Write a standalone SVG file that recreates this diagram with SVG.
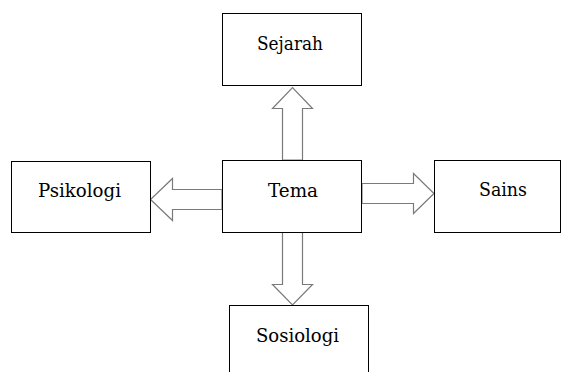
<svg xmlns="http://www.w3.org/2000/svg" width="564" height="372" viewBox="0 0 564 372">
<style>
.box{fill:#fff;stroke:#000;stroke-width:1}
.lbl{font-family:'DejaVu Serif',serif;font-size:18px;fill:#000;text-anchor:middle}
.arr{fill:#fff;stroke:#7a7a7a;stroke-width:1.2;stroke-linejoin:miter}
</style>
<rect width="564" height="372" fill="#fff"/>
<g id="connectors">
<polygon class="arr" points="282.5,160 282.5,108.5 272.5,108.5 292.5,87.5 312.5,108.5 302.5,108.5 302.5,160"/>
<polygon class="arr" points="282.5,232 282.5,284.5 272.5,284.5 292.5,305 312.5,284.5 302.5,284.5 302.5,232"/>
<polygon class="arr" points="222,189.5 172.5,189.5 172.5,178.5 150.5,199.5 172.5,220.5 172.5,209.5 222,209.5"/>
<polygon class="arr" points="362,183.5 413.5,183.5 413.5,173.5 434,193.5 413.5,213.5 413.5,203.5 362,203.5"/>
</g>
<g id="sejarah">
<rect class="box" x="222.5" y="13.5" width="139" height="72"/>
<text class="lbl" x="290" y="50" textLength="66" lengthAdjust="spacingAndGlyphs">Sejarah</text>
</g>
<g id="tema">
<rect class="box" x="222.5" y="160.5" width="139" height="72"/>
<text class="lbl" x="293" y="197" textLength="50" lengthAdjust="spacingAndGlyphs">Tema</text>
</g>
<g id="psikologi">
<rect class="box" x="11.5" y="161.5" width="139" height="71"/>
<text class="lbl" x="79.5" y="197" textLength="83" lengthAdjust="spacingAndGlyphs">Psikologi</text>
</g>
<g id="sains">
<rect class="box" x="434.5" y="160.5" width="126" height="72"/>
<text class="lbl" x="503" y="196" textLength="48" lengthAdjust="spacingAndGlyphs">Sains</text>
</g>
<g id="sosiologi">
<rect class="box" x="229.5" y="305.5" width="139" height="80"/>
<text class="lbl" x="297.5" y="342" textLength="83" lengthAdjust="spacingAndGlyphs">Sosiologi</text>
</g>
</svg>
